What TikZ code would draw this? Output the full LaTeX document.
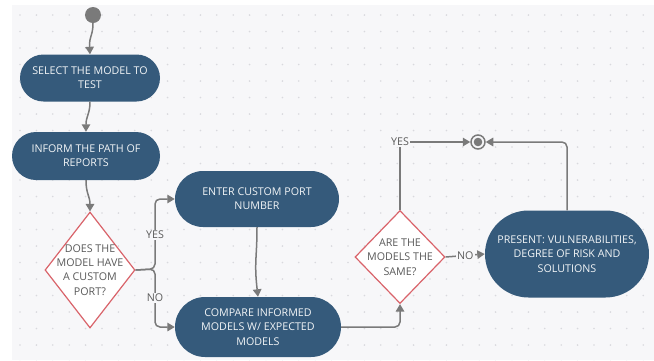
\documentclass[tikz,border=0pt]{standalone}
\usepackage{fontspec}
\setmainfont{Open Sans}
\usetikzlibrary{shapes.geometric,shapes.misc,arrows.meta}
\definecolor{bg}{HTML}{F7F7F9}
\definecolor{boxc}{HTML}{355A7B}
\definecolor{linec}{HTML}{7A7A7A}
\definecolor{dred}{HTML}{D9636A}
\definecolor{dotc}{HTML}{D9D9DE}
\definecolor{txtg}{HTML}{5A5A5A}
\begin{document}
\begin{tikzpicture}[x=1pt,y=-1pt,
  actbox/.style={rounded rectangle, fill=boxc, text=white!93!boxc, font=\fontsize{10.7}{14.2}\selectfont, align=center, inner sep=0pt},
  decis/.style={diamond, draw=dred, line width=1.2pt, fill=white, inner sep=0pt},
  dtext/.style={font=\fontsize{10.7}{14.3}\selectfont, text=txtg, align=center},
  conn/.style={draw=linec, line width=1.5pt, -{Triangle[width=8.5pt,length=7.5pt]}},
  lbl/.style={fill=bg, text=txtg, font=\fontsize{10.7}{12}\selectfont, inner sep=1.5pt}
]
\useasboundingbox (0,0) rectangle (654,360);
\fill[white] (0,0) rectangle (654,360);
\fill[bg] (12,5) rectangle (654,360);
\foreach \i in {0,...,38} \foreach \j in {0,...,21} \fill[dotc] (20+\i*16.4, 15+\j*16.5) circle (0.9);

\node[circle, fill=linec, minimum size=16pt, inner sep=0pt] (start) at (93,15) {};
\node[actbox, minimum width=140pt, minimum height=47pt] (sel) at (90,78) {SELECT THE MODEL TO\\TEST};
\node[actbox, minimum width=148pt, minimum height=48pt] (inf) at (86,156) {INFORM THE PATH OF\\REPORTS};
\node[decis, minimum width=90pt, minimum height=116pt,
  label={[dtext]center:DOES THE\\MODEL HAVE\\A CUSTOM\\PORT?}] (d1) at (90,270) {};
\node[actbox, minimum width=164pt, minimum height=56pt] (enter) at (257,199) {ENTER CUSTOM PORT\\NUMBER};
\node[actbox, minimum width=166pt, minimum height=60pt] (cmp) at (258,327) {COMPARE INFORMED\\MODELS W/ EXPECTED\\MODELS};
\node[decis, minimum width=90pt, minimum height=93pt,
  label={[dtext]center:ARE THE\\MODELS THE\\SAME?}] (d2) at (400,257) {};
\node[actbox, minimum width=164pt, minimum height=87pt] (pres) at (567,254) {PRESENT: VULNERABILITIES,\\DEGREE OF RISK AND\\SOLUTIONS};
\node[circle, draw=linec, line width=1.5pt, fill=bg, minimum size=14pt, inner sep=0pt] (end) at (478,142) {};
\fill[linec] (end.center) circle (4.3);

\draw[conn] (start.south) .. controls (93,36) and (89,36) .. (sel.north);
\draw[conn] (sel.south) .. controls (90,114) and (86,116) .. (inf.north);
\draw[conn] (inf.south) .. controls (86,194) and (90,196) .. (d1.north);
\draw[conn] (enter.south) .. controls (257,258) and (254,262) .. (cmp.north);

\coordinate (br) at (155,269);
\draw[conn, rounded corners=5pt] (d1.east) -- (br) |- (enter.west);
\draw[conn, rounded corners=5pt] (d1.east) -- (br) |- (cmp.west);
\node[lbl] at (155,235) {YES};
\node[lbl] at (155,298) {NO};

\draw[conn, rounded corners=5pt] (cmp.east) -| (d2.south);
\draw[conn] (d2.north) |- (end.west);
\node[lbl] at (d2.north |- end.west) {YES};
\draw[conn] (d2.east) -- node[lbl]{NO} (pres.west);
\draw[conn, rounded corners=5pt] (pres.north) |- (end.east);
\end{tikzpicture}
\end{document}
